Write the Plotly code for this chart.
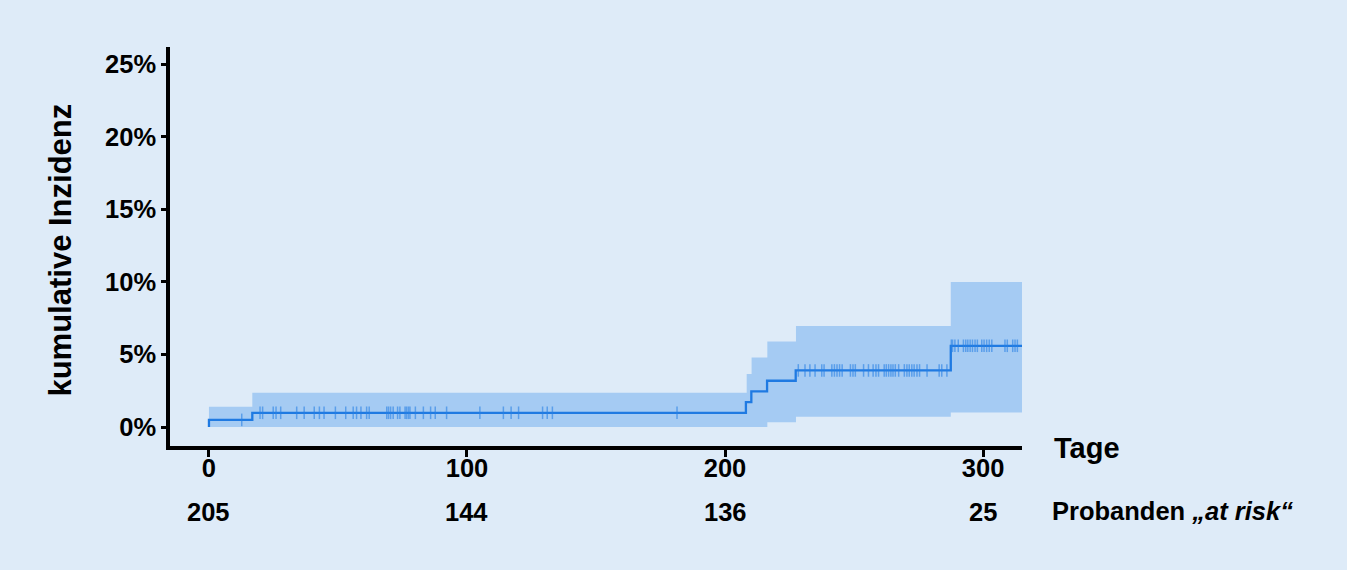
import numpy as np
import plotly.graph_objects as go

# Kaplan-Meier style cumulative incidence (values in %)
event_days = [0, 16.8, 208.1, 210.2, 216.3, 227.4, 287.5]
event_incidence = [0.49, 0.98, 1.72, 2.45, 3.19, 3.9, 5.6]
end_day = 315.6

# confidence band (step)
band_days = [0, 16.8, 208.4, 210.3, 216.4, 227.5, 287.5, 315.6]
band_upper = [1.4, 2.37, 3.66, 4.8, 5.9, 6.97, 10.0, 10.0]
band_lower = [0, 0, 0, 0, 0.32, 0.71, 1.0, 1.0]

# censored observations (days)
censor_days = [
    12.7, 19.8, 20.8, 24.9, 26.0, 27.8, 34.0, 36.9, 40.8, 42.8, 44.6, 49.0,
    53.0, 55.9, 57.2, 58.9, 61.1, 62.1, 68.9, 69.6, 70.4, 71.4, 73.1, 74.0,
    76.0, 76.6, 77.3, 77.9, 80.0, 83.1, 85.9, 87.7, 92.1, 105.0, 114.1, 117.1,
    120.0, 129.3, 131.1, 133.1, 181.4,
    228.4, 231.0, 232.9, 234.9, 237.5, 238.4, 241.4, 242.4, 243.4, 244.4,
    245.4, 248.6, 249.6, 250.5, 253.7, 255.6, 257.4, 258.5, 259.5, 261.7,
    262.5, 263.4, 264.3, 265.1, 266.0, 267.3, 269.5, 270.5, 271.4, 272.4,
    273.3, 274.4, 275.4, 278.3, 283.0, 284.0, 286.0,
    287.7, 288.2, 289.1, 290.4, 292.4, 293.3, 294.1, 295.0, 295.9, 296.9,
    297.8, 299.5, 300.4, 301.4, 302.4, 303.4, 308.5, 309.4, 311.5, 312.4,
    313.3, 315.4,
]

# numbers at risk
risk_days = [0, 100, 200, 300]
risk_counts = [205, 144, 136, 25]

y_ticks = [0, 5, 10, 15, 20, 25]
x_ticks = [0, 100, 200, 300]

BG = "#deebf8"
BAND = "#a5cbf3"
LINE = "#1f7ae2"
TICK = "rgba(40,128,228,0.6)"
FONT = "Liberation Sans"

idx = np.searchsorted(event_days, censor_days, side="right") - 1
censor_y = np.array(event_incidence)[idx]

fig = go.Figure()

fig.add_trace(go.Scatter(
    x=band_days, y=band_lower, mode="lines", line=dict(width=0, shape="hv"),
    showlegend=False, hoverinfo="skip"
))
fig.add_trace(go.Scatter(
    x=band_days, y=band_upper, mode="lines", line=dict(width=0, shape="hv"),
    fill="tonexty", fillcolor=BAND, showlegend=False, hoverinfo="skip"
))

fig.add_trace(go.Scatter(
    x=[0] + event_days + [end_day],
    y=[0] + event_incidence + [event_incidence[-1]],
    mode="lines", line=dict(color=LINE, width=2.3, shape="hv"),
    showlegend=False
))

fig.add_trace(go.Scatter(
    x=censor_days, y=censor_y, mode="markers",
    marker=dict(symbol="line-ns-open", size=9, color=TICK,
                line=dict(color=TICK, width=1.5)),
    showlegend=False
))

# at risk numbers below the axis
for d, n in zip(risk_days, risk_counts):
    fig.add_annotation(x=d, y=-0.165, xref="x", yref="paper", text=f"<b>{n}</b>",
                       showarrow=False, font=dict(size=25.5, color="black", family=FONT),
                       xanchor="center", yanchor="middle")

fig.add_annotation(x=1.035, y=-0.005, xref="paper", yref="paper", text="<b>Tage</b>",
                   showarrow=False, xanchor="left", yanchor="middle",
                   font=dict(size=29, color="black", family=FONT))
fig.add_annotation(x=1.033, y=-0.163, xref="paper", yref="paper",
                   text="<b>Probanden <i>„at risk“</i></b>",
                   showarrow=False, xanchor="left", yanchor="middle",
                   font=dict(size=25.5, color="black", family=FONT))
fig.add_annotation(x=-0.129, y=0.49, xref="paper", yref="paper",
                   text="<b>kumulative Inzidenz</b>", textangle=-90,
                   showarrow=False, xanchor="center", yanchor="middle",
                   font=dict(size=31, color="black", family=FONT))

fig.update_xaxes(
    range=[-15.1, 315.1], tickvals=x_ticks, ticktext=[f"<b>{t}</b>" for t in x_ticks],
    showline=True, linecolor="black", linewidth=3.5, ticks="outside",
    ticklen=7, tickwidth=3, tickcolor="black", showgrid=False, zeroline=False,
    ticklabelstandoff=-10,
    tickfont=dict(size=25.5, color="black", family=FONT)
)
fig.update_yaxes(
    range=[-1.31, 26.2], tickvals=y_ticks, ticktext=[f"<b>{t}%</b>" for t in y_ticks],
    showline=True, linecolor="black", linewidth=3.5, ticks="outside",
    ticklen=5, tickwidth=3, tickcolor="black", showgrid=False, zeroline=False,
    tickfont=dict(size=25.5, color="black", family=FONT)
)

fig.update_layout(
    width=1347, height=570,
    margin=dict(l=170, r=325, t=47, b=124),
    paper_bgcolor=BG, plot_bgcolor=BG,
    showlegend=False
)

fig.write_html("out.html", config={"displayModeBar": False},
               post_script="document.body.style.margin='0';")
